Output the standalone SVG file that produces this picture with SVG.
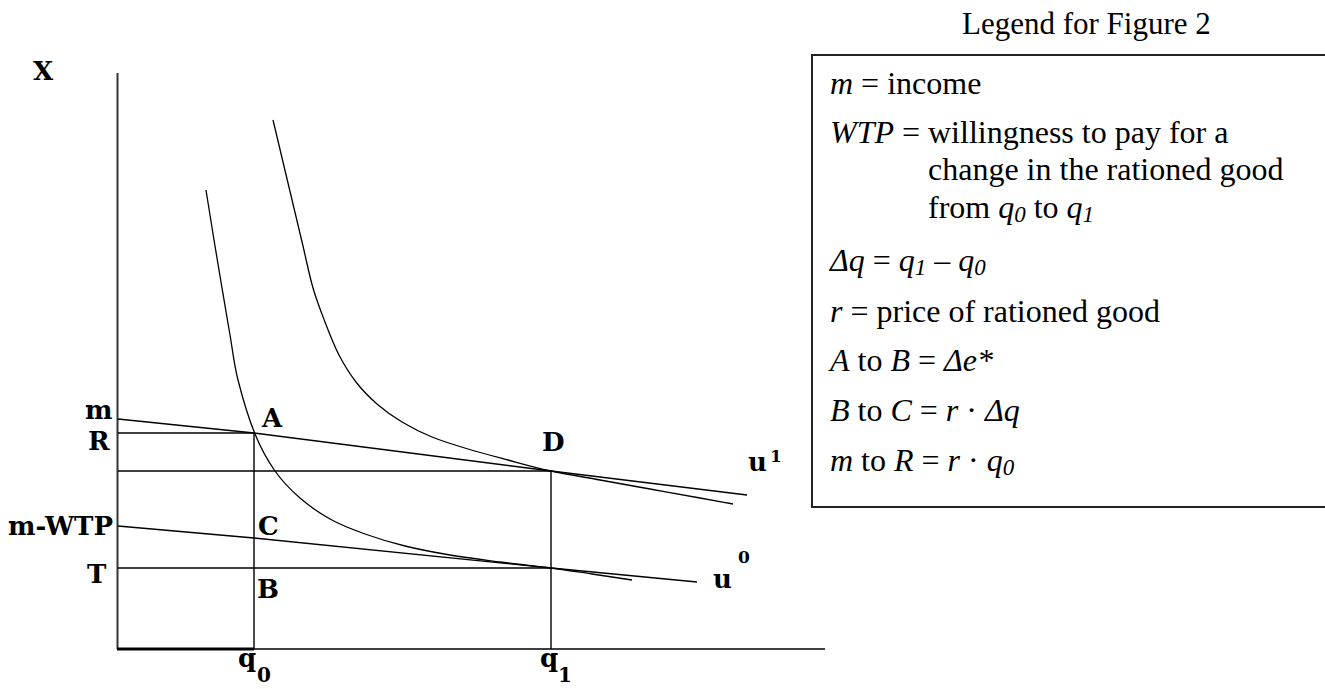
<svg xmlns="http://www.w3.org/2000/svg" width="1325" height="689" viewBox="0 0 1325 689">
<style>
.ln{stroke:#000;stroke-width:1.4;fill:none}
.cv{stroke:#000;stroke-width:1.3;fill:none}
.lb{font-family:"DejaVu Serif",serif;font-weight:bold;font-size:26px;fill:#000}
.sm{font-size:17px}
.sb{font-size:20px}
.lg{font-family:"Liberation Serif","Times New Roman",serif;font-size:32px;fill:#000}
.i{font-style:italic}
.sub{font-style:italic;font-size:23px}
</style>
<rect width="1325" height="689" fill="#fff"/>
<g id="axes">
<line x1="117.5" y1="73" x2="117.5" y2="649" stroke="#333" stroke-width="2"/>
<line x1="117" y1="649" x2="825" y2="649" class="ln"/>
<line x1="117" y1="649" x2="254" y2="649" stroke="#000" stroke-width="3"/>
</g>
<g id="connectors">
<line x1="118" y1="433" x2="254" y2="433" class="ln"/>
<line x1="118" y1="471" x2="551" y2="471" class="ln"/>
<line x1="118" y1="568" x2="551" y2="568" class="ln"/>
<line x1="254" y1="433" x2="254" y2="649" class="ln"/>
<line x1="551" y1="471" x2="551" y2="649" class="ln"/>
<polyline points="118,419 254,433 551,471 747,495" class="ln"/>
<polyline points="118,526 254,538 551,568 697,582" class="ln"/>
</g>
<g id="curve-u1">
<path class="cv" d="M273,120 C276.3,134 279.7,148 283,162 C286.3,176 289.7,190 293,204 C296.3,218 299.7,232 303,246 C306.3,260 309.3,275.3 313,288 C316.7,300.7 320.7,310.8 325,322 C329.3,333.2 333.8,345 339,355 C344.2,365 349.7,373.8 356,382 C362.3,390.2 369.3,397.3 377,404 C384.7,410.7 392.8,416.5 402,422 C411.2,427.5 421,432.5 432,437 C443,441.5 455.3,445.2 468,449 C480.7,452.8 494.2,456.3 508,460 C521.8,463.7 535.7,467.7 551,471 C566.3,474.3 583.5,477 600,480 C616.5,483 633.3,486 650,489 C666.7,492 686.2,495.5 700,498 C713.8,500.5 722,502 733,504"/>
</g>
<g id="curve-u0">
<path class="cv" d="M206,190 C208.7,206.7 211.3,223.7 214,240 C216.7,256.3 219.3,272.2 222,288 C224.7,303.8 227.3,319.7 230,335 C232.7,350.3 233.8,363.5 238,380 C242.2,396.5 248.8,418.8 255,434 C261.2,449.2 267.5,460.3 275,471 C282.5,481.7 290.8,490 300,498 C309.2,506 319.2,513 330,519 C340.8,525 352.5,529.5 365,534 C377.5,538.5 390.8,542.5 405,546 C419.2,549.5 434.2,552.3 450,555 C465.8,557.7 483.2,559.8 500,562 C516.8,564.2 535.7,566 551,568 C566.3,570 578.5,572 592,574 C605.5,576 618.7,578 632,580"/>
</g>
<g id="labels">
<text class="lb" x="33" y="80">X</text>
<text class="lb" x="85" y="419">m</text>
<text class="lb" x="88" y="450">R</text>
<text class="lb" x="8" y="535">m-WTP</text>
<text class="lb" x="87" y="583">T</text>
<text class="lb" x="262" y="427">A</text>
<text class="lb" x="258" y="535">C</text>
<text class="lb" x="257" y="598">B</text>
<text class="lb" x="542" y="451">D</text>
<text class="lb" x="748" y="471">u</text><text class="lb sm" x="770" y="462">1</text>
<text class="lb" x="713" y="588">u</text><text class="lb sm" x="738" y="563">0</text>
<text class="lb" x="238" y="667">q</text><text class="lb sb" x="257" y="682">0</text>
<text class="lb" x="540" y="667">q</text><text class="lb sb" x="558" y="682">1</text>
</g>
<g id="legend">
<text class="lg" x="962" y="34" style="font-size:31px">Legend for Figure 2</text>
<rect x="812" y="55" width="530" height="452" fill="none" stroke="#222" stroke-width="2"/>
<text class="lg" x="830" y="94"><tspan class="i">m</tspan> = income</text>
<text class="lg" x="830" y="143"><tspan class="i">WTP</tspan> =</text>
<text class="lg" x="928" y="143">willingness to pay for a</text>
<text class="lg" x="928" y="180">change in the rationed good</text>
<text class="lg" x="928" y="218">from <tspan class="i">q</tspan><tspan class="sub" dy="4">0</tspan><tspan dy="-4"> to </tspan><tspan class="i">q</tspan><tspan class="sub" dy="4">1</tspan></text>
<text class="lg" x="830" y="271"><tspan class="i">Δq</tspan> = <tspan class="i">q</tspan><tspan class="sub" dy="4">1</tspan><tspan dy="-4"> – </tspan><tspan class="i">q</tspan><tspan class="sub" dy="4">0</tspan></text>
<text class="lg" x="830" y="322"><tspan class="i">r</tspan> = price of rationed good</text>
<text class="lg" x="830" y="371"><tspan class="i">A</tspan> to <tspan class="i">B</tspan> = <tspan class="i">Δe*</tspan></text>
<text class="lg" x="830" y="421"><tspan class="i">B</tspan> to <tspan class="i">C</tspan> = <tspan class="i">r</tspan> · <tspan class="i">Δq</tspan></text>
<text class="lg" x="830" y="471"><tspan class="i">m</tspan> to <tspan class="i">R</tspan> = <tspan class="i">r</tspan> · <tspan class="i">q</tspan><tspan class="sub" dy="4">0</tspan></text>
</g>
</svg>
